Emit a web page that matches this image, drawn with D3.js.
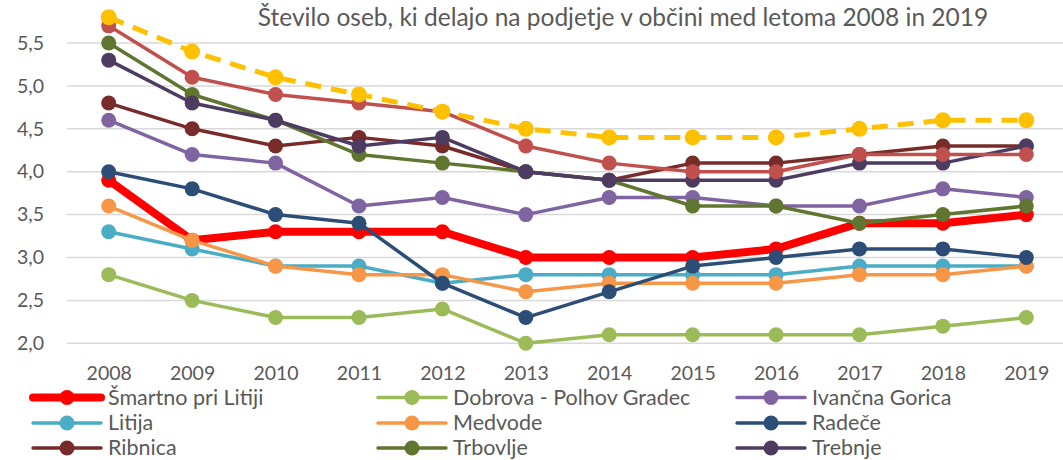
<!DOCTYPE html>
<html>
<head>
<meta charset="utf-8">
<script src="https://cdn.jsdelivr.net/npm/d3@7"></script>
<style>
  html, body { margin: 0; padding: 0; background: #fff; }
  svg { display: block; font-family: Lato, "Open Sans", sans-serif; }
</style>
</head>
<body>
<svg id="chart" width="1063" height="460"></svg>
<script>
// Years on the category axis
const years = ["2008","2009","2010","2011","2012","2013","2014","2015","2016","2017","2018","2019"];

// Persons per enterprise, by municipality
const smartno   = [3.9, 3.2, 3.3, 3.3, 3.3, 3.0, 3.0, 3.0, 3.1, 3.4, 3.4, 3.5];
const dobrova   = [2.8, 2.5, 2.3, 2.3, 2.4, 2.0, 2.1, 2.1, 2.1, 2.1, 2.2, 2.3];
const ivancna   = [4.6, 4.2, 4.1, 3.6, 3.7, 3.5, 3.7, 3.7, 3.6, 3.6, 3.8, 3.7];
const litija    = [3.3, 3.1, 2.9, 2.9, 2.7, 2.8, 2.8, 2.8, 2.8, 2.9, 2.9, 2.9];
const medvode   = [3.6, 3.2, 2.9, 2.8, 2.8, 2.6, 2.7, 2.7, 2.7, 2.8, 2.8, 2.9];
const radece    = [4.0, 3.8, 3.5, 3.4, 2.7, 2.3, 2.6, 2.9, 3.0, 3.1, 3.1, 3.0];
const ribnica   = [4.8, 4.5, 4.3, 4.4, 4.3, 4.0, 3.9, 4.1, 4.1, 4.2, 4.3, 4.3];
const trbovlje  = [5.5, 4.9, 4.6, 4.2, 4.1, 4.0, 3.9, 3.6, 3.6, 3.4, 3.5, 3.6];
const trebnje   = [5.3, 4.8, 4.6, 4.3, 4.4, 4.0, 3.9, 3.9, 3.9, 4.1, 4.1, 4.3];
const zagorje   = [5.7, 5.1, 4.9, 4.8, 4.7, 4.3, 4.1, 4.0, 4.0, 4.2, 4.2, 4.2];
const slovenija = [5.8, 5.4, 5.1, 4.9, 4.7, 4.5, 4.4, 4.4, 4.4, 4.5, 4.6, 4.6];

// Value axis ticks
const yTicks = [2.0, 2.5, 3.0, 3.5, 4.0, 4.5, 5.0, 5.5];

const title = "Število oseb, ki delajo na podjetje v občini med letoma 2008 in 2019";

const series = [
  { name: "Šmartno pri Litiji",      values: smartno,   color: "#FF0000", width: 8,   r: 7.5, legend: true },
  { name: "Dobrova - Polhov Gradec", values: dobrova,   color: "#9BBB59", width: 3.5, r: 7.5, legend: true },
  { name: "Ivančna Gorica",          values: ivancna,   color: "#8064A2", width: 3.5, r: 7.5, legend: true },
  { name: "Litija",                  values: litija,    color: "#4BACC6", width: 3.5, r: 7.5, legend: true },
  { name: "Medvode",                 values: medvode,   color: "#F79646", width: 3.5, r: 7.5, legend: true },
  { name: "Radeče",                  values: radece,    color: "#2C4D75", width: 3.5, r: 7.5, legend: true },
  { name: "Ribnica",                 values: ribnica,   color: "#772C2A", width: 3.5, r: 7.5, legend: true },
  { name: "Trbovlje",                values: trbovlje,  color: "#5F7530", width: 3.5, r: 7.5, legend: true },
  { name: "Trebnje",                 values: trebnje,   color: "#4D3B62", width: 3.5, r: 7.5, legend: true },
  { name: "Zagorje ob Savi",         values: zagorje,   color: "#C0504D", width: 3.5, r: 7.5, legend: false },
  { name: "Slovenija",               values: slovenija, color: "#FFC000", width: 5,   r: 8,   legend: false, dash: "16,10" }
];

const svg = d3.select("#chart");

const plot = { left: 67, right: 1068, top: 0, bottom: 343.3 };

const x = d3.scalePoint()
  .domain(years)
  .range([plot.left, plot.right])
  .padding(0.5);

const y = d3.scaleLinear()
  .domain([2.0, 6.0])
  .range([plot.bottom, plot.bottom - 4 * 85.8]);

// Horizontal gridlines
svg.append("g")
  .selectAll("line")
  .data(yTicks)
  .join("line")
  .attr("x1", plot.left)
  .attr("x2", plot.right)
  .attr("y1", d => y(d))
  .attr("y2", d => y(d))
  .attr("stroke", "#D9D9D9")
  .attr("stroke-width", 1.5);

// Value axis labels
const yAxis = d3.axisLeft(y)
  .tickValues(yTicks)
  .tickFormat(d => d3.format(".1f")(d).replace(".", ","))
  .tickSize(0)
  .tickPadding(0);
svg.append("g")
  .attr("transform", "translate(44,0)")
  .call(yAxis)
  .call(g => g.select(".domain").remove())
  .call(g => g.selectAll("text")
    .attr("fill", "#595959")
    .style("font-size", "19.5px")
    .style("font-family", "Lato, 'Open Sans', sans-serif"));

// Category axis labels
const xAxis = d3.axisBottom(x).tickSize(0).tickPadding(0);
svg.append("g")
  .attr("transform", "translate(0,366)")
  .call(xAxis)
  .call(g => g.select(".domain").remove())
  .call(g => g.selectAll("text")
    .attr("fill", "#595959")
    .style("font-size", "19.5px")
    .style("font-family", "Lato, 'Open Sans', sans-serif"));

// Title
svg.append("text")
  .attr("x", 623)
  .attr("y", 26)
  .attr("text-anchor", "middle")
  .attr("fill", "#595959")
  .style("font-size", "24.5px")
  .text(title);

// Lines and markers
const line = d3.line()
  .x((d, i) => x(years[i]))
  .y(d => y(d));

const sg = svg.append("g")
  .selectAll("g")
  .data(series)
  .join("g");

sg.append("path")
  .attr("d", d => line(d.values))
  .attr("fill", "none")
  .attr("stroke", d => d.color)
  .attr("stroke-width", d => d.width)
  .attr("stroke-linejoin", "round")
  .attr("stroke-dasharray", d => d.dash || null);

sg.selectAll("circle")
  .data(d => d.values.map((v, i) => ({ v, i, s: d })))
  .join("circle")
  .attr("cx", d => x(years[d.i]))
  .attr("cy", d => y(d.v))
  .attr("r", d => d.s.r)
  .attr("fill", d => d.s.color);

// Legend: three columns
const legendItems = series.filter(d => d.legend);
const colX = [33, 378, 737];
const rowY = [397.5, 423, 448];
const lg = svg.append("g")
  .selectAll("g")
  .data(legendItems)
  .join("g")
  .attr("transform", (d, i) => `translate(${colX[i % 3]},${rowY[Math.floor(i / 3)]})`);

lg.append("line")
  .attr("x1", 0).attr("x2", 68)
  .attr("y1", 0).attr("y2", 0)
  .attr("stroke", d => d.color)
  .attr("stroke-width", d => d.width)
  .attr("stroke-linecap", "round");
lg.append("circle")
  .attr("cx", 34).attr("cy", 0)
  .attr("r", 7.5)
  .attr("fill", d => d.color);
lg.append("text")
  .attr("x", 75)
  .attr("y", 7)
  .attr("fill", "#595959")
  .style("font-size", "21.5px")
  .text(d => d.name);
</script>
</body>
</html>
